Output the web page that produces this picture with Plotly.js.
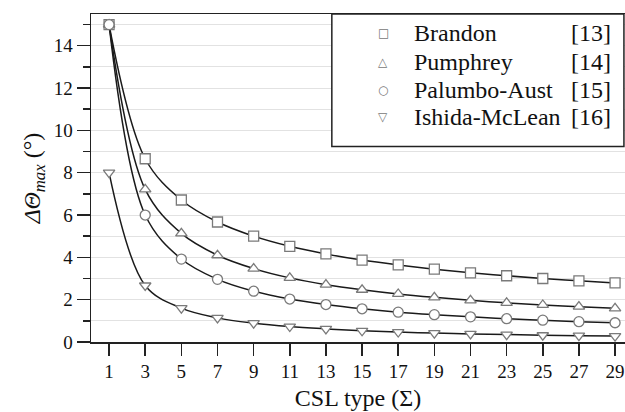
<!DOCTYPE html>
<html>
<head>
<meta charset="utf-8">
<script src="https://cdn.plot.ly/plotly-3.0.1.min.js"></script>
<style>html,body{margin:0;padding:0;background:#fff;}#chart{width:625px;height:412px;}</style>
</head>
<body>
<div id="chart"></div>
<script>
const sigma = [1, 3, 5, 7, 9, 11, 13, 15, 17, 19, 21, 23, 25, 27, 29];
const brandon = [15, 8.66, 6.71, 5.67, 5.00, 4.52, 4.16, 3.87, 3.64, 3.44, 3.27, 3.13, 3.00, 2.89, 2.79];
const pumphrey = [15, 7.21, 5.13, 4.10, 3.47, 3.03, 2.71, 2.47, 2.27, 2.11, 1.97, 1.85, 1.75, 1.67, 1.59];
const palumbo = [15, 6.00, 3.92, 2.96, 2.40, 2.03, 1.77, 1.57, 1.41, 1.29, 1.19, 1.10, 1.03, 0.96, 0.91];
const ishida = [8, 2.67, 1.60, 1.14, 0.89, 0.73, 0.62, 0.53, 0.47, 0.42, 0.38, 0.35, 0.32, 0.30, 0.28];
const seriesNames = ["Brandon", "Pumphrey", "Palumbo-Aust", "Ishida-McLean"];
const refs = ["[13]", "[14]", "[15]", "[16]"];
const legendGlyphs = ["□", "△", "○", "▽"];
const xTicks = [1, 3, 5, 7, 9, 11, 13, 15, 17, 19, 21, 23, 25, 27, 29];

const allY = [brandon, pumphrey, palumbo, ishida];
const symbols = ["square", "triangle-up", "circle", "triangle-down"];
const serif = "Liberation Serif, serif";

const traces = [];
allY.forEach((ys, i) => {
  traces.push({
    x: sigma, y: ys, type: "scatter", mode: "lines", name: seriesNames[i],
    line: {color: "#1a1a1a", width: 1.5, shape: "spline", smoothing: 1},
    showlegend: false, hoverinfo: "skip"
  });
});
allY.forEach((ys, i) => {
  traces.push({
    x: sigma, y: ys, type: "scatter", mode: "markers", name: seriesNames[i],
    marker: {symbol: symbols[i], size: 10, color: "#ffffff",
             line: {color: "#7a7a7a", width: 1.3}},
    showlegend: false
  });
});

// legend rows (paper y of row centres)
const rowY = [0.942, 0.854, 0.768, 0.686];
const annotations = [];
seriesNames.forEach((n, i) => {
  annotations.push({xref: "paper", yref: "paper", x: 0.547, y: rowY[i], xanchor: "center", yanchor: "middle",
    text: legendGlyphs[i], showarrow: false, font: {family: "DejaVu Sans", size: 12, color: "#777"}});
  annotations.push({xref: "paper", yref: "paper", x: 0.602, y: rowY[i], xanchor: "left", yanchor: "middle",
    text: n, showarrow: false, font: {family: serif, size: 24, color: "#111"}});
  annotations.push({xref: "paper", yref: "paper", x: 0.977, y: rowY[i], xanchor: "right", yanchor: "middle",
    text: refs[i], showarrow: false, font: {family: serif, size: 24, color: "#111"}});
});

const layout = {
  width: 625, height: 412,
  margin: {l: 91, r: 0, t: 14, b: 70},
  paper_bgcolor: "#fff", plot_bgcolor: "#fff",
  font: {family: serif, color: "#111"},
  showlegend: false,
  shapes: [{
    type: "rect", xref: "paper", yref: "paper",
    x0: 0.451, x1: 0.998, y0: 0.596, y1: 1.0,
    fillcolor: "#fff", line: {color: "#222", width: 1.5}, layer: "above"
  }],
  annotations: annotations,
  xaxis: {
    range: [0, 29.55],
    tickmode: "array", tickvals: xTicks, ticktext: xTicks.map(String),
    ticks: "outside", ticklen: 12, tickwidth: 1.5, tickcolor: "#222",
    showline: true, linecolor: "#222", linewidth: 1.5, mirror: true,
    showgrid: false, zeroline: false,
    tickfont: {family: serif, size: 19, color: "#111"},
    title: {text: "CSL type (Σ)", font: {family: serif, size: 24, color: "#111"}, standoff: 8}
  },
  yaxis: {
    range: [0, 15.5],
    dtick: 2, tick0: 0,
    ticks: "outside", ticklen: 13, tickwidth: 1.5, tickcolor: "#222",
    showline: true, linecolor: "#222", linewidth: 1.5,
    showgrid: true, gridcolor: "#e2e2e2", gridwidth: 1,
    minor: {dtick: 1, tick0: 0, ticks: "outside", ticklen: 7, tickwidth: 1.5, tickcolor: "#222",
            showgrid: true, gridcolor: "#e2e2e2", gridwidth: 1},
    zeroline: false,
    tickfont: {family: serif, size: 19, color: "#111"},
    title: {text: "<i>ΔΘ</i><sub><i>max</i></sub> (°)", font: {family: serif, size: 24, color: "#111"}, standoff: 6}
  }
};

Plotly.newPlot("chart", traces, layout, {displayModeBar: false, staticPlot: true});
</script>
</body>
</html>
